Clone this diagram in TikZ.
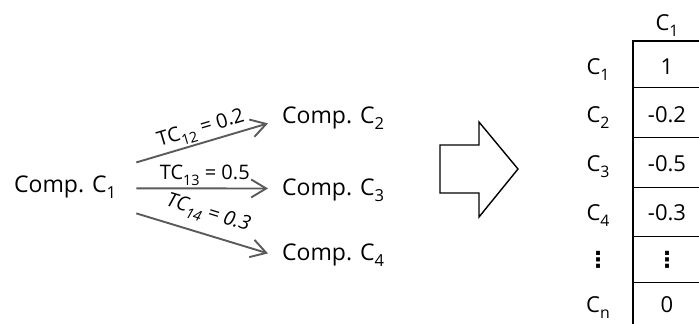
\documentclass[tikz,border=0pt]{standalone}
\usepackage{fontspec}
\usepackage{graphicx}
\setmainfont{Open Sans}
\newfontfamily\dvs{DejaVu Sans}
\usetikzlibrary{arrows.meta}
\definecolor{arrowgray}{RGB}{90,90,90}
\newcommand\sbs[1]{\raisebox{-0.28em}{\scalebox{0.72}{#1}}}
\begin{document}
\begin{tikzpicture}[x=1pt,y=-1pt,
  lbl/.style={font=\fontsize{22}{26}\selectfont, inner sep=0pt},
  big/.style={font=\fontsize{23}{27}\selectfont, inner sep=0pt},
  tc/.style={font=\fontsize{20}{23}\selectfont, inner sep=2pt, sloped},
  conn/.style={draw=arrowgray, line width=1.9pt, -{Straight Barb[length=15pt,width=18pt]}},
  cellline/.style={line width=1pt},
  outer/.style={line width=1.7pt, line join=miter}]
\useasboundingbox (0,0) rectangle (699,324);
% left part
\node[big, anchor=base west] (c1) at (14,192) {Comp. C\sbs{1}};
\node[big, anchor=base west] (c2) at (282,123) {Comp. C\sbs{2}};
\node[big, anchor=base west] (c3) at (282,195) {Comp. C\sbs{3}};
\node[big, anchor=base west] (c4) at (282,260) {Comp. C\sbs{4}};
\draw[conn] ([xshift=20pt,yshift=24.5pt]c1.east) -- node[tc, above, pos=0.52] (t12) {TC\sbs{12} = 0.2} ([xshift=-14pt,yshift=-5.5pt]c2.west);
\draw[conn] ([xshift=20pt,yshift=-1.5pt]c1.east) -- node[tc, above, pos=0.52] (t13) {TC\sbs{13} = 0.5} ([xshift=-14pt,yshift=1.5pt]c3.west);
\draw[conn] ([xshift=20pt,yshift=-26.5pt]c1.east) -- node[tc, above=7pt, pos=0.5, font=\fontsize{20}{23}\selectfont\itshape] (t14) {TC\sbs{14} = 0.3} ([xshift=-14pt,yshift=1.5pt]c4.west);
% block arrow
\draw[line width=1.4pt, line join=miter] (440,145) -- (479,145) -- (479,122) -- (518,169) -- (479,217) -- (479,193) -- (440,193) -- cycle;
% table
\begin{scope}
\clip (0,0) rectangle (699,324);
\draw[outer] (633,330) -- (633,41) -- (710,41);
\foreach \y in {87,137,187,236,282} \draw[cellline] (633,\y) -- (710,\y);
\end{scope}
\node[lbl, anchor=base] (h1) at (667,30) {C\sbs{1}};
\node[lbl, anchor=base] (r1) at (598,74) {C\sbs{1}};
\node[lbl, anchor=base] (r2) at (598,122) {C\sbs{2}};
\node[lbl, anchor=base] (r3) at (598,171) {C\sbs{3}};
\node[lbl, anchor=base] (r4) at (598,220) {C\sbs{4}};
\node[lbl] (r5) at (598,260) {\dvs\bfseries ⋮};
\node[lbl, anchor=base] (r6) at (598,312) {C\sbs{n}};
\node[lbl, anchor=base] (v1) at (667,74) {1};
\node[lbl, anchor=base] (v2) at (667,122) {-0.2};
\node[lbl, anchor=base] (v3) at (667,171) {-0.5};
\node[lbl, anchor=base] (v4) at (667,220) {-0.3};
\node[lbl] (v5) at (667,260) {\dvs\bfseries ⋮};
\node[lbl, anchor=base] (v6) at (667,312) {0};
\end{tikzpicture}
\end{document}
